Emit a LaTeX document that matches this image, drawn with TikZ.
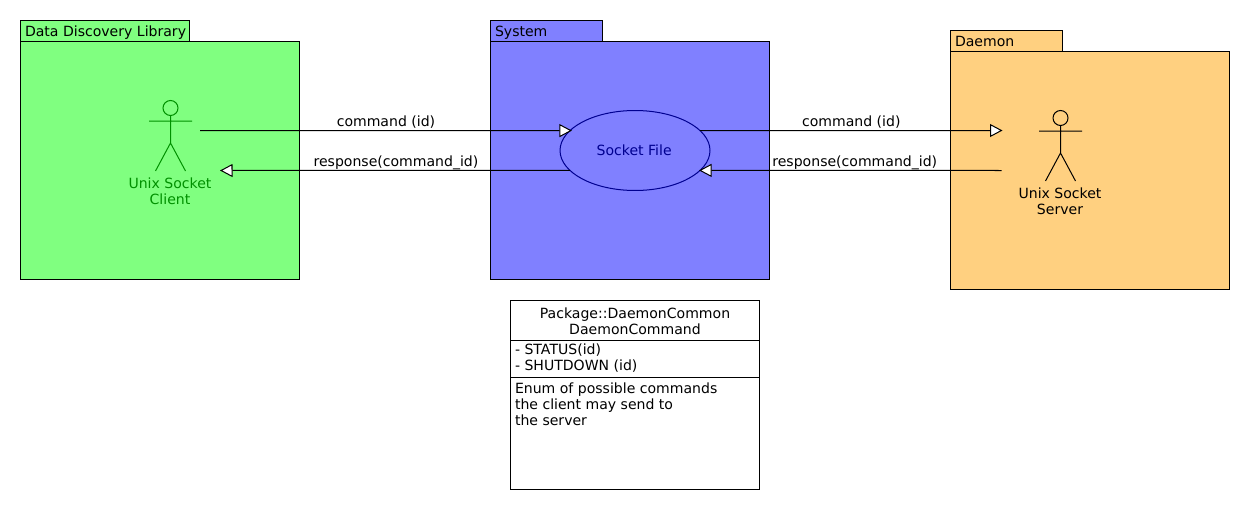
\documentclass[tikz,border=0pt]{standalone}
\usepackage{fontspec}
\setmainfont{DejaVu Sans}
\usetikzlibrary{arrows.meta,shapes.geometric}
\definecolor{clientfill}{HTML}{80FF80}
\definecolor{systemfill}{HTML}{8080FF}
\definecolor{daemonfill}{HTML}{FFD080}
\definecolor{clientink}{HTML}{009000}
\definecolor{systemink}{HTML}{000090}
\tikzset{>={Triangle[fill=white,length=.25cm,width=.26cm]},every node/.style={font=\fontsize{8}{9.1}\selectfont,inner sep=0pt,outer sep=0pt},box/.style={line width=.57pt},flow/.style={line width=.57pt,->},title/.style={anchor=west},caption/.style={align=center},member/.style={anchor=north west,align=left},
actor/.pic={\draw[line width=.57pt] (0,-22.5) circle(7.5) (-21.5,-9.5)--(21.5,-9.5) (0,-15)--(0,12.5) (-15,40.5)--(0,12.5)--(15,40.5);}}
\begin{document}
\begin{tikzpicture}[x=.02cm,y=-.02cm]
\useasboundingbox (-.5,-.5) rectangle (1249.5,509.5);
% packages
\draw[box,fill=clientfill] (20,20) rectangle (189,41) (20,41) rectangle (299,279);
\draw[box,fill=systemfill] (490,20) rectangle (602,41) (490,41) rectangle (769,279);
\draw[box,fill=daemonfill] (950,30) rectangle (1062,51) (950,51) rectangle (1229,289);
\node[title] (clienttitle) at (24.5,32){Data Discovery Library};\node[title] (systemtitle) at (494.5,32){System};\node[title] (daemontitle) at (954.5,41){Daemon};
% actors
\pic[color=clientink] at (170,130){actor};\node[caption,text=clientink] (clientlabel) at (169.5,191){Unix Socket\\Client};
\pic at (1060,140){actor};\node[caption] (serverlabel) at (1059.5,201){Unix Socket\\Server};
\node[ellipse,draw=systemink,line width=.57pt,minimum width=3cm,minimum height=1.6cm,text=systemink,text depth=0pt] (socket) at (634.5,150){\hspace{-1pt}Socket File};
% messages
\coordinate (clientout) at (199.5,130);\coordinate (clientin) at (219.5,170);\coordinate (serverin) at (1002,130);\coordinate (serverout) at (1001,170);
\draw[flow,shorten >=-.04cm] (clientout)--(socket.163) node[pos=.5,above=1.5pt,xshift=.02cm]{command (id)};
\draw[flow] (socket.197)--(clientin) node[pos=.5,above=.6pt,xshift=.02cm]{response(command\_id)};
\draw[flow] (socket.17)--(serverin) node[pos=.5,above=1.5pt]{command (id)};
\draw[flow,shorten >=-.02cm] (serverout)--(socket.-17) node[pos=.5,above=.6pt,xshift=.08cm]{response(command\_id)};
% class box
\draw[box,fill=white] (510,300) rectangle (759,489) (510,340)--(759,340) (510,377)--(759,377);
\node[caption] (classname) at (634.5,321){Package::DaemonCommon\\DaemonCommand};
\node[member] (classattrs) at (514.5,343.5){- STATUS(id)\\- SHUTDOWN (id)};
\node[member] (classnote) at (514.5,382){Enum of possible commands\\the client may send to\\the server};
\end{tikzpicture}
\end{document}
